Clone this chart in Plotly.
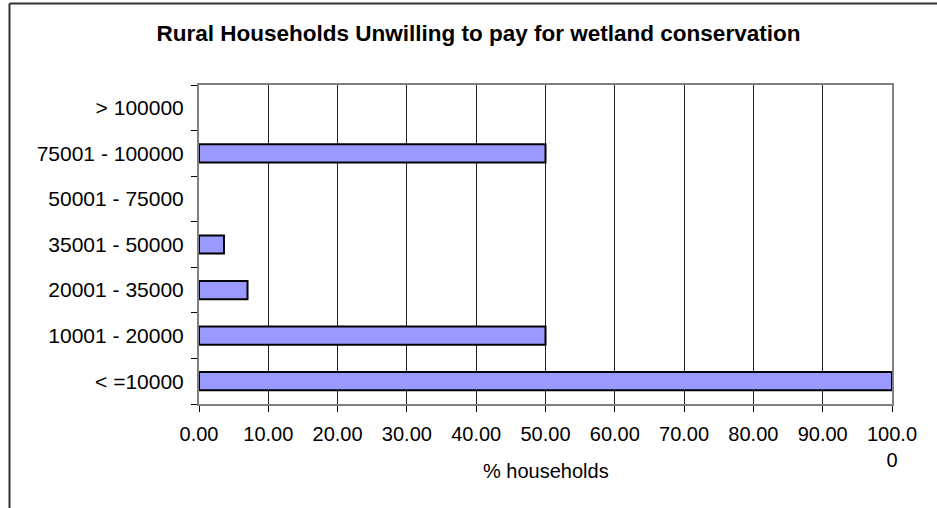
import plotly.graph_objects as go

categories = ["< =10000", "10001 - 20000", "20001 - 35000", "35001 - 50000",
              "50001 - 75000", "75001 - 100000", "> 100000"]
values = [100.0, 50.0, 7.0, 3.6, 0.0, 50.0, 0.0]
tick_vals = [0, 10, 20, 30, 40, 50, 60, 70, 80, 90, 100]
tick_text = ["0.00", "10.00", "20.00", "30.00", "40.00", "50.00", "60.00",
             "70.00", "80.00", "90.00", "100.0<br>0"]

W, H = 937, 508
L, R, T, B = 199, 45, 85, 104
pw, ph = W - L - R, H - T - B

FONT = "Liberation Sans, Arial, sans-serif"

outline_widths = [2 if v > 0 else 0 for v in values]

fig = go.Figure()
fig.add_trace(go.Bar(
    y=categories, x=values, orientation="h",
    marker=dict(color="#9999FF", line=dict(color="#000000", width=outline_widths)),
    hoverinfo="x+y",
))

fig.update_layout(
    width=W, height=H,
    margin=dict(l=L, r=R, t=T, b=B, pad=0),
    paper_bgcolor="white", plot_bgcolor="white",
    bargap=0.6,
    showlegend=False,
    font=dict(family=FONT, size=20, color="black"),
    title=dict(text="<b>Rural Households Unwilling to pay for wetland conservation</b>",
               x=478.5 / W, xanchor="center", y=1 - 33.5 / H, yanchor="middle",
               font=dict(family=FONT, size=22.5, color="black")),
    xaxis=dict(
        range=[0, 100], tickvals=tick_vals, ticktext=tick_text,
        showgrid=True, gridcolor="#222222", gridwidth=1,
        showline=True, linecolor="#808080", linewidth=2, mirror=True,
        ticks="outside", ticklen=6, tickcolor="#000000", tickwidth=1,
        zeroline=False, ticklabelstandoff=5,
        tickfont=dict(family=FONT, size=20, color="black"),
    ),
    yaxis=dict(
        type="category", categoryorder="array", categoryarray=categories,
        showgrid=False,
        showline=True, linecolor="#808080", linewidth=2, mirror=True,
        ticks="outside", ticklen=6, tickcolor="#000000", tickwidth=1,
        tickson="boundaries", ticklabelstandoff=9,
        tickfont=dict(family=FONT, size=21, color="black"),
    ),
    annotations=[
        dict(text="% households", xref="paper", yref="paper",
             x=0.5, xanchor="center", y=-(470.5 - (H - B)) / ph, yanchor="middle",
             showarrow=False, font=dict(family=FONT, size=20, color="black")),
    ],
    shapes=[
        dict(type="line", xref="paper", yref="paper",
             x0=(9.5 - L) / pw, x1=(9.5 - L) / pw,
             y0=1 + (T - 3.5) / ph, y1=-(B + 20) / ph,
             line=dict(color="#333333", width=2)),
        dict(type="line", xref="paper", yref="paper",
             x0=(9.5 - L) / pw, x1=(W + 20 - L) / pw,
             y0=1 + (T - 3.5) / ph, y1=1 + (T - 3.5) / ph,
             line=dict(color="#333333", width=2)),
    ],
)

fig.write_html("out.html")
